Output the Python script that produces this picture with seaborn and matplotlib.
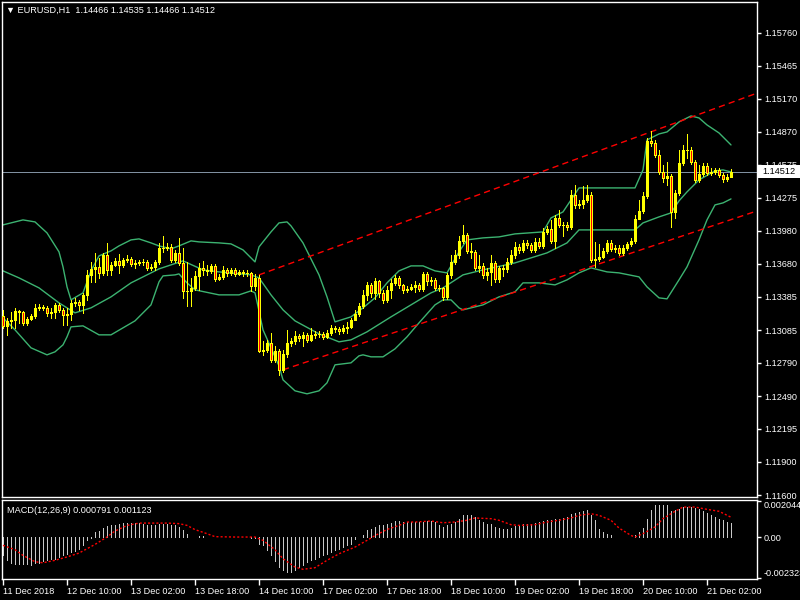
import numpy as np
import pandas as pd
import matplotlib
matplotlib.use("Agg")
import matplotlib.pyplot as plt
from matplotlib.patches import Rectangle
import seaborn as sns

# ---------------- data ----------------
title_text = "\u25BC EURUSD,H1  1.14466 1.14535 1.14466 1.14512"
macd_title = "MACD(12,26,9) 0.000791 0.001123"

first_open = 1.13213
closes = [
    1.13123, 1.13168, 1.13177, 1.13258, 1.13249, 1.13150, 1.13186, 1.13213, 1.13285, 1.13294,
    1.13285, 1.13240, 1.13249, 1.13312, 1.13267, 1.13222, 1.13231, 1.13330, 1.13339, 1.13312,
    1.13402, 1.13582, 1.13636, 1.13654, 1.13600, 1.13762, 1.13627, 1.13672, 1.13708, 1.13672,
    1.13717, 1.13726, 1.13681, 1.13690, 1.13699, 1.13699, 1.13645, 1.13654, 1.13699, 1.13825,
    1.13825, 1.13834, 1.13717, 1.13780, 1.13690, 1.13438, 1.13438, 1.13465, 1.13573, 1.13645,
    1.13627, 1.13618, 1.13663, 1.13546, 1.13564, 1.13627, 1.13600, 1.13627, 1.13591, 1.13609,
    1.13600, 1.13600, 1.13483, 1.13555, 1.12898, 1.12907, 1.12970, 1.12817, 1.12898, 1.12727,
    1.12871, 1.12970, 1.12988, 1.13033, 1.13015, 1.13042, 1.12997, 1.13042, 1.13051, 1.13051,
    1.13024, 1.13060, 1.13105, 1.13096, 1.13078, 1.13105, 1.13114, 1.13177, 1.13231, 1.13303,
    1.13402, 1.13492, 1.13420, 1.13528, 1.13420, 1.13357, 1.13447, 1.13510, 1.13555, 1.13492,
    1.13447, 1.13456, 1.13474, 1.13492, 1.13456, 1.13591, 1.13528, 1.13537, 1.13465, 1.13465,
    1.13384, 1.13582, 1.13699, 1.13762, 1.13888, 1.13942, 1.13798, 1.13789, 1.13645, 1.13663,
    1.13582, 1.13609, 1.13690, 1.13546, 1.13645, 1.13636, 1.13699, 1.13762, 1.13834, 1.13807,
    1.13870, 1.13852, 1.13807, 1.13879, 1.13843, 1.13969, 1.13996, 1.13888, 1.14095, 1.14032,
    1.14032, 1.14014, 1.14302, 1.14212, 1.14221, 1.14257, 1.14302, 1.13717, 1.13726, 1.13744,
    1.13798, 1.13870, 1.13816, 1.13825, 1.13780, 1.13825, 1.13861, 1.13888, 1.14086, 1.14158,
    1.14293, 1.14788, 1.14770, 1.14662, 1.14509, 1.14455, 1.14473, 1.14149, 1.14320, 1.14590,
    1.14707, 1.14707, 1.14599, 1.14437, 1.14491, 1.14563, 1.14500, 1.14509, 1.14527, 1.14482,
    1.14446, 1.14466, 1.14512]
highs = [
    1.13267, 1.13195, 1.13249, 1.13285, 1.13267, 1.13258, 1.13204, 1.13231, 1.13321, 1.13321,
    1.13312, 1.13303, 1.13285, 1.13330, 1.13330, 1.13285, 1.13285, 1.13357, 1.13375, 1.13357,
    1.13420, 1.13627, 1.13699, 1.13780, 1.13735, 1.13780, 1.13870, 1.13699, 1.13735, 1.13771,
    1.13735, 1.13762, 1.13744, 1.13717, 1.13717, 1.13726, 1.13717, 1.13681, 1.13717, 1.13870,
    1.13933, 1.13870, 1.13861, 1.13807, 1.13915, 1.13825, 1.13699, 1.13555, 1.13618, 1.13690,
    1.13708, 1.13672, 1.13681, 1.13681, 1.13591, 1.13663, 1.13645, 1.13645, 1.13645, 1.13627,
    1.13627, 1.13627, 1.13609, 1.13591, 1.13582, 1.12988, 1.12997, 1.13060, 1.12943, 1.12916,
    1.12907, 1.13087, 1.13015, 1.13078, 1.13051, 1.13069, 1.13060, 1.13105, 1.13078, 1.13078,
    1.13069, 1.13087, 1.13132, 1.13123, 1.13114, 1.13132, 1.13159, 1.13195, 1.13267, 1.13330,
    1.13447, 1.13519, 1.13510, 1.13555, 1.13537, 1.13447, 1.13483, 1.13546, 1.13582, 1.13573,
    1.13501, 1.13483, 1.13501, 1.13528, 1.13510, 1.13609, 1.13609, 1.13564, 1.13555, 1.13492,
    1.13474, 1.13600, 1.13762, 1.13807, 1.13933, 1.14032, 1.13960, 1.13870, 1.13807, 1.13762,
    1.13690, 1.13645, 1.13762, 1.13708, 1.13663, 1.13672, 1.13735, 1.13807, 1.13879, 1.13861,
    1.13897, 1.13897, 1.13870, 1.13915, 1.13915, 1.14005, 1.14023, 1.14077, 1.14122, 1.14167,
    1.14059, 1.14059, 1.14347, 1.14392, 1.14257, 1.14383, 1.14392, 1.14329, 1.13879, 1.13861,
    1.13825, 1.13897, 1.13897, 1.13852, 1.13852, 1.13852, 1.13879, 1.13915, 1.14122, 1.14257,
    1.14329, 1.14815, 1.14878, 1.14797, 1.14707, 1.14572, 1.14599, 1.14491, 1.14347, 1.14707,
    1.14752, 1.14851, 1.14734, 1.14617, 1.14572, 1.14590, 1.14590, 1.14545, 1.14545, 1.14545,
    1.14500, 1.14491, 1.14535]
lows = [
    1.13105, 1.13042, 1.13105, 1.13105, 1.13150, 1.13132, 1.13132, 1.13177, 1.13195, 1.13267,
    1.13267, 1.13213, 1.13195, 1.13195, 1.13249, 1.13132, 1.13132, 1.13177, 1.13303, 1.13267,
    1.13240, 1.13357, 1.13519, 1.13519, 1.13555, 1.13582, 1.13582, 1.13582, 1.13663, 1.13600,
    1.13654, 1.13699, 1.13663, 1.13645, 1.13672, 1.13672, 1.13627, 1.13627, 1.13627, 1.13681,
    1.13789, 1.13807, 1.13699, 1.13699, 1.13672, 1.13375, 1.13303, 1.13303, 1.13447, 1.13447,
    1.13582, 1.13582, 1.13600, 1.13528, 1.13537, 1.13546, 1.13573, 1.13582, 1.13573, 1.13582,
    1.13573, 1.13573, 1.13438, 1.13447, 1.12889, 1.12862, 1.12889, 1.12799, 1.12799, 1.12682,
    1.12709, 1.12844, 1.12943, 1.12961, 1.12988, 1.12943, 1.12979, 1.12988, 1.13015, 1.13024,
    1.13006, 1.13015, 1.13042, 1.13069, 1.13051, 1.13060, 1.13060, 1.13105, 1.13177, 1.13213,
    1.13285, 1.13357, 1.13384, 1.13366, 1.13384, 1.13330, 1.13339, 1.13375, 1.13492, 1.13465,
    1.13420, 1.13429, 1.13447, 1.13429, 1.13438, 1.13438, 1.13492, 1.13492, 1.13447, 1.13438,
    1.13357, 1.13366, 1.13555, 1.13681, 1.13735, 1.13870, 1.13780, 1.13735, 1.13627, 1.13609,
    1.13555, 1.13537, 1.13492, 1.13519, 1.13519, 1.13573, 1.13609, 1.13681, 1.13735, 1.13780,
    1.13789, 1.13825, 1.13789, 1.13789, 1.13825, 1.13825, 1.13951, 1.13870, 1.13825, 1.14014,
    1.13933, 1.13987, 1.13996, 1.14185, 1.14185, 1.14185, 1.14239, 1.13699, 1.13654, 1.13708,
    1.13735, 1.13780, 1.13798, 1.13789, 1.13762, 1.13762, 1.13807, 1.13843, 1.13870, 1.14086,
    1.14140, 1.14275, 1.14743, 1.14644, 1.14491, 1.14419, 1.14392, 1.14014, 1.14095, 1.14302,
    1.14572, 1.14635, 1.14581, 1.14419, 1.14419, 1.14473, 1.14482, 1.14482, 1.14491, 1.14464,
    1.14419, 1.14428, 1.14466]

# Bollinger bands (20, 2) at selected bars
bb_upper_bars = [0, 5, 8, 11, 14, 15, 16, 17, 20, 22, 24, 27, 29, 32, 34, 37, 39, 42, 44, 47,
                 49, 54, 57, 60, 63, 64, 67, 69, 71, 72, 75, 79, 81, 83, 87, 90, 93, 96, 99, 102,
                 105, 108, 111, 114, 116, 120, 124, 128, 135, 137, 140, 142, 144, 149, 158, 160,
                 161, 164, 166, 169, 172, 174, 176, 179, 182]
bb_upper = [1.14032, 1.14077, 1.14059, 1.13960, 1.13789, 1.13654, 1.13474, 1.13357, 1.13420, 1.13618,
            1.13753, 1.13798, 1.13843, 1.13897, 1.13906, 1.13870, 1.13843, 1.13816, 1.13843, 1.13888,
            1.13879, 1.13870, 1.13861, 1.13807, 1.13699, 1.13834, 1.13969, 1.14050, 1.14059, 1.14023,
            1.13870, 1.13582, 1.13384, 1.13159, 1.13204, 1.13285, 1.13375, 1.13510, 1.13618, 1.13663,
            1.13663, 1.13618, 1.13600, 1.13789, 1.13897, 1.13915, 1.13924, 1.13951, 1.13969, 1.14095,
            1.14149, 1.14257, 1.14365, 1.14365, 1.14365, 1.14527, 1.14797, 1.14851, 1.14869, 1.14959,
            1.15013, 1.14995, 1.14932, 1.14860, 1.14752]
bb_mid_bars = [0, 4, 9, 14, 18, 22, 27, 32, 39, 45, 50, 54, 62, 64, 67, 70, 73, 79, 84, 87,
               91, 97, 102, 107, 110, 115, 120, 128, 136, 141, 144, 149, 158, 160, 164, 167, 169,
               171, 174, 178, 180, 182]
bb_mid = [1.13618, 1.13555, 1.13465, 1.13330, 1.13240, 1.13285, 1.13384, 1.13510, 1.13636, 1.13708,
          1.13627, 1.13609, 1.13582, 1.13555, 1.13402, 1.13267, 1.13168, 1.13051, 1.12979, 1.12997,
          1.13069, 1.13204, 1.13312, 1.13420, 1.13465, 1.13582, 1.13627, 1.13690, 1.13780, 1.13870,
          1.13987, 1.13987, 1.13987, 1.14050, 1.14104, 1.14140, 1.14248, 1.14329, 1.14437, 1.14518,
          1.14527, 1.14509]
bb_lower_bars = [0, 3, 7, 11, 13, 15, 16, 17, 20, 24, 27, 33, 37, 39, 40, 43, 44, 46, 48, 54,
                 59, 62, 63, 64, 65, 69, 70, 73, 76, 79, 81, 83, 87, 89, 90, 92, 95, 98, 101, 104,
                 108, 110, 112, 114, 115, 120, 124, 128, 130, 134, 138, 141, 144, 147, 151, 154,
                 159, 161, 164, 166, 169, 171, 174, 176, 178, 180, 182]
bb_lower = [1.13195, 1.13087, 1.12925, 1.12862, 1.12889, 1.12952, 1.13024, 1.13114, 1.13123, 1.13042,
            1.13042, 1.13168, 1.13312, 1.13519, 1.13573, 1.13582, 1.13591, 1.13510, 1.13447, 1.13402,
            1.13402, 1.13438, 1.13420, 1.13258, 1.13087, 1.12763, 1.12637, 1.12538, 1.12511, 1.12538,
            1.12610, 1.12772, 1.12790, 1.12853, 1.12862, 1.12844, 1.12844, 1.12916, 1.13024, 1.13150,
            1.13312, 1.13357, 1.13357, 1.13285, 1.13267, 1.13312, 1.13384, 1.13429, 1.13510, 1.13510,
            1.13492, 1.13537, 1.13600, 1.13645, 1.13609, 1.13600, 1.13564, 1.13474, 1.13375, 1.13366,
            1.13537, 1.13654, 1.13897, 1.14077, 1.14212, 1.14230, 1.14266]

# hand-drawn channel trend lines (two anchor points each)
chan_up_bars = [64, 190]
chan_up = [1.13582, 1.15238]
chan_lo_bars = [70, 190]
chan_lo = [1.12727, 1.14176]

last_price = 1.14512
price_ticks = [1.15760, 1.15465, 1.15170, 1.14870, 1.14575, 1.14275, 1.13980, 1.13680,
               1.13385, 1.13085, 1.12790, 1.12490, 1.12195, 1.11900, 1.11600]
price_tick_labels = ["1.15760", "1.15465", "1.15170", "1.14870", "1.14575", "1.14275", "1.13980",
                     "1.13680", "1.13385", "1.13085", "1.12790", "1.12490", "1.12195", "1.11900",
                     "1.11600"]

macd_main = [
    -0.00104, -0.00132, -0.00146, -0.00151, -0.00151, -0.00151, -0.00151, -0.00157, -0.00146, -0.00146,
    -0.00138, -0.00132, -0.00127, -0.00123, -0.00113, -0.00104, -0.00095, -0.00085, -0.00081, -0.00066,
    -0.00043, -0.00019, -0.00006, 0.00028, 0.00032, 0.00051, 0.00060, 0.00066, 0.00070, 0.00076,
    0.00081, 0.00081, 0.00079, 0.00081, 0.00081, 0.00076, 0.00070, 0.00066, 0.00066, 0.00076,
    0.00076, 0.00076, 0.00070, 0.00066, 0.00057, 0.00038, 0.00019, 0.00001, 0.00001, 0.00004,
    0.00004, 0.00002, 0.00002, 0.00001, 0.00001, 0.00001, 0.0, 0.0, 0.0, 0.0,
    0.0, 0.0, -0.00003, -0.00004, -0.00038, -0.00047, -0.00076, -0.00104, -0.00138, -0.00170,
    -0.00189, -0.00198, -0.00198, -0.00189, -0.00170, -0.00161, -0.00142, -0.00132, -0.00123, -0.00113,
    -0.00104, -0.00095, -0.00085, -0.00076, -0.00066, -0.00057, -0.00047, -0.00038, -0.00009, 0.00001,
    0.00013, 0.00038, 0.00047, 0.00057, 0.00066, 0.00070, 0.00076, 0.00081, 0.00089, 0.00091,
    0.00085, 0.00085, 0.00085, 0.00085, 0.00085, 0.00085, 0.00089, 0.00091, 0.00085, 0.00066,
    0.00057, 0.00066, 0.00076, 0.00085, 0.00104, 0.00127, 0.00127, 0.00127, 0.00113, 0.00095,
    0.00085, 0.00076, 0.00076, 0.00057, 0.00051, 0.00047, 0.00047, 0.00051, 0.00062, 0.00062,
    0.00076, 0.00076, 0.00076, 0.00081, 0.00085, 0.00089, 0.00095, 0.00095, 0.00100, 0.00104,
    0.00110, 0.00113, 0.00132, 0.00138, 0.00142, 0.00146, 0.00151, 0.00127, 0.00095, 0.00047,
    0.00028, 0.00019, 0.00009, 0.00001, 0.00001, 0.00001, 0.00001, 0.00001, 0.00009, 0.00028,
    0.00051, 0.00104, 0.00151, 0.00180, 0.00183, 0.00183, 0.00180, 0.00146, 0.00151, 0.00161,
    0.00170, 0.00170, 0.00170, 0.00166, 0.00157, 0.00146, 0.00138, 0.00123, 0.00113, 0.00104,
    0.00098, 0.00085, 0.000791]
signal_bars = [0, 3, 5, 8, 10, 13, 16, 19, 23, 26, 28, 31, 34, 38, 41, 44, 46, 48, 51, 53,
               58, 63, 65, 68, 70, 73, 75, 78, 81, 84, 88, 91, 93, 96, 99, 101, 103, 107, 110, 113,
               116, 118, 122, 124, 127, 129, 133, 136, 139, 142, 144, 147, 149, 152, 154, 157, 158,
               160, 163, 165, 168, 170, 173, 176, 179, 182]
signal_vals = [-0.00047, -0.00072, -0.00104, -0.00140, -0.00146, -0.00132, -0.00113, -0.00091, -0.00042, 0.0,
               0.00034, 0.00066, 0.00079, 0.00079, 0.00079, 0.00076, 0.00066, 0.00042, 0.00019, 0.00002,
               0.0, 0.0, -0.00019, -0.00072, -0.00123, -0.00170, -0.00183, -0.00174, -0.00132, -0.00095,
               -0.00057, -0.00019, 0.00008, 0.00043, 0.00066, 0.00085, 0.00085, 0.00091, 0.00081, 0.00085,
               0.00095, 0.00108, 0.00104, 0.00095, 0.00070, 0.00066, 0.00070, 0.00085, 0.00095, 0.00108,
               0.00123, 0.00132, 0.00123, 0.00095, 0.00051, 0.00009, 0.0,
               0.00019, 0.00057, 0.00104, 0.00146, 0.00170, 0.00170, 0.00157, 0.00146, 0.001123]
macd_ticks = [0.002044, 0.0, -0.002323]
macd_tick_labels = ["0.002044", "0.00", "-0.002323"]

time_tick_bars = [0, 16, 32, 48, 64, 80, 96, 112, 128, 144, 160, 176]
time_tick_labels = ["11 Dec 2018", "12 Dec 10:00", "13 Dec 02:00", "13 Dec 18:00", "14 Dec 10:00",
                    "17 Dec 02:00", "17 Dec 18:00", "18 Dec 10:00", "19 Dec 02:00", "19 Dec 18:00",
                    "20 Dec 10:00", "21 Dec 02:00"]

# ---------------- styling ----------------
sns.set_theme(style="dark", rc={"axes.facecolor": "black", "figure.facecolor": "black",
                                "axes.edgecolor": "white", "text.color": "white",
                                "xtick.color": "white", "ytick.color": "white"})
plt.rcParams['font.family'] = ['Liberation Sans', 'DejaVu Sans']
FS = 6.6
YEL = "#FFFF00"
GRN = "#3CB371"
PX = 0.72  # one pixel in points at 100 dpi

W, H = 800, 600
fig = plt.figure(figsize=(8, 6), dpi=100, facecolor="black")
ax = fig.add_axes([2 / W, 1 - 497 / H, 755 / W, 495 / H])
axm = fig.add_axes([2 / W, 1 - 579 / H, 755 / W, 79 / H])
for a in (ax, axm):
    a.set_facecolor("black")
    a.grid(False)
    for s in a.spines.values():
        s.set_color("white")
        s.set_linewidth(1.0)

# ---------------- main price panel ----------------
df = pd.DataFrame({"close": closes, "high": highs, "low": lows})
df["open"] = [first_open] + closes[:-1]
df["bar"] = np.arange(len(df))

ax.axhline(last_price, color="#8090A0", lw=PX, zorder=1, antialiased=False)

for bx, by in ((bb_upper_bars, bb_upper), (bb_mid_bars, bb_mid), (bb_lower_bars, bb_lower)):
    sns.lineplot(x=bx, y=by, ax=ax, color=GRN, lw=1.0, zorder=2)

ax.plot(chan_up_bars, chan_up, color="#FF0000", lw=1.0, dashes=(4.5, 3), zorder=2)
ax.plot(chan_lo_bars, chan_lo, color="#FF0000", lw=1.0, dashes=(4.5, 3), zorder=2)

ax.vlines(df["bar"], df["low"], df["high"], color=YEL, lw=PX, zorder=3, antialiased=False)
bull = df[df["close"] >= df["open"]]
bear = df[df["close"] < df["open"]]
ax.bar(bull["bar"], bull["close"] - bull["open"], bottom=bull["open"], width=0.55,
       color=YEL, edgecolor=YEL, linewidth=PX, zorder=4, antialiased=False)
ax.bar(bear["bar"], bear["open"] - bear["close"], bottom=bear["close"], width=0.55,
       color="#FF0000", edgecolor=YEL, linewidth=PX, zorder=4, antialiased=False)

ax.set_xlim(-0.25, 188.5)
ax.set_ylim(1.11582, 1.16039)
ax.set_xticks([])
ax.yaxis.tick_right()
ax.set_yticks(price_ticks)
ax.set_yticklabels(price_tick_labels)
ax.tick_params(axis="y", which="both", right=True, left=False, length=3, width=1,
               colors="white", labelsize=FS, pad=2)
ax.set_xlabel("")
ax.set_ylabel("")

# current price tag
ax.add_patch(Rectangle((1.0015, last_price - 0.00058), 0.06, 0.00116,
                       transform=ax.get_yaxis_transform(), clip_on=False,
                       facecolor="white", edgecolor="none", zorder=10))
ax.text(1.0075, last_price, f"{last_price:.5f}", transform=ax.get_yaxis_transform(),
        ha="left", va="center", color="black", fontsize=FS, zorder=11, clip_on=False)

fig.text(6 / W, 1 - 10 / H, title_text, color="white", fontsize=FS, ha="left", va="center")

# ---------------- MACD panel ----------------
axm.vlines(np.arange(len(macd_main)), 0, macd_main, color="#C8C8C8", lw=PX, zorder=2,
           antialiased=False)
sns.lineplot(x=signal_bars, y=signal_vals, ax=axm, color="#FF0000", lw=1.0,
             linestyle=(0, (1.5, 1.5)), zorder=3)
axm.set_xlim(-0.25, 188.5)
axm.set_ylim(-0.00238, 0.00210)
axm.yaxis.tick_right()
axm.set_yticks(macd_ticks)
axm.set_yticklabels(macd_tick_labels)
labs = axm.get_yticklabels()
labs[0].set_va("top")
labs[2].set_va("bottom")
axm.tick_params(axis="y", which="both", right=True, left=False, length=3, width=1,
                colors="white", labelsize=FS, pad=2)
axm.set_xticks(time_tick_bars)
axm.set_xticklabels(time_tick_labels)
for t in axm.get_xticklabels():
    t.set_ha("left")
axm.tick_params(axis="x", which="both", bottom=True, length=4, width=1,
                colors="white", labelsize=FS, pad=2)
axm.set_xlabel("")
axm.set_ylabel("")
axm.text(0.007, 0.87, macd_title, transform=axm.transAxes, color="white",
         fontsize=FS, ha="left", va="center")

fig.savefig("out.png", dpi=100, facecolor="black")
